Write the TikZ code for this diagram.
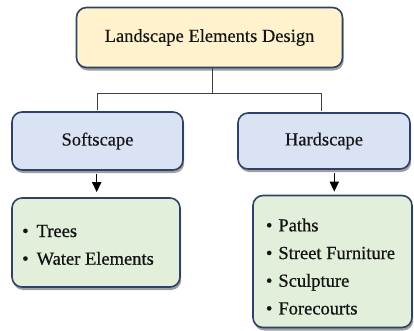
\documentclass[tikz,border=0pt]{standalone}
\usepackage{fontspec}
\setmainfont{Liberation Serif}
\newfontfamily\tms[FakeBold=0.25]{Liberation Serif}
\newfontfamily\tmsb[FakeBold=0.7]{Liberation Serif}
\usetikzlibrary{shadows,arrows.meta}
\definecolor{bordc}{HTML}{2E4168}
\definecolor{topfill}{HTML}{FFF2CC}
\definecolor{midfill}{HTML}{DAE3F3}
\definecolor{botfill}{HTML}{E2EFDA}
\definecolor{linec}{HTML}{404040}
\definecolor{txtc}{HTML}{141414}
\tikzset{
  box/.style={draw=bordc, line width=1.6pt, rounded corners=10pt, text=txtc,
    font=\tms\fontsize{18.5}{28}\selectfont, align=left, inner sep=0pt,
    drop shadow={shadow xshift=1.2pt, shadow yshift=-3pt, fill=black, opacity=0.38}},
  listbox/.style={box, fill=botfill, font=\tmsb\fontsize{18.5}{27.7}\selectfont},
  conn/.style={draw=linec, line width=1pt},
  arr/.style={draw=black, line width=1.5pt, -{Triangle[length=10pt,width=9pt]}}
}
\begin{document}
\begin{tikzpicture}[x=1pt,y=-1pt]
\useasboundingbox (0,0) rectangle (414,330);
\node[box, fill=topfill, minimum width=266pt, minimum height=60pt] (top) at (209.5,37.5) {Landscape Elements Design};
\node[box, fill=midfill, minimum width=171pt, minimum height=58pt] (soft) at (97.5,141) {Softscape};
\node[box, fill=midfill, minimum width=172pt, minimum height=56pt] (hard) at (324,141) {Hardscape};
\node[listbox, minimum width=168pt, minimum height=89pt] (trees) at (96,242.5)
  {\rule{0pt}{17pt}•\hspace{8pt}Trees\\•\hspace{8pt}Water Elements\rule{16pt}{0pt}};
\node[listbox, minimum width=159pt, minimum height=132pt] (paths) at (332.5,261.5)
  {\rule{0pt}{23pt}•\hspace{6pt}Paths\\•\hspace{6pt}Street Furniture\rule{4pt}{0pt}\\•\hspace{6pt}Sculpture\\•\hspace{6pt}Forecourts};
\coordinate (mid) at (212.7,93.5);
\coordinate (L) at (97,110);
\coordinate (R) at (321,111);
\draw[conn] (top.south -| mid) -- (mid);
\draw[conn] (L) |- (mid) -| (R);
\coordinate (a1) at (96.7,0);
\coordinate (a2) at (334.3,0);
\draw[arr] ([yshift=-3pt]soft.south -| a1) -- ([yshift=5pt]trees.north -| a1);
\draw[arr] ([yshift=-3pt]hard.south -| a2) -- ([yshift=3pt]paths.north -| a2);
\end{tikzpicture}
\end{document}
